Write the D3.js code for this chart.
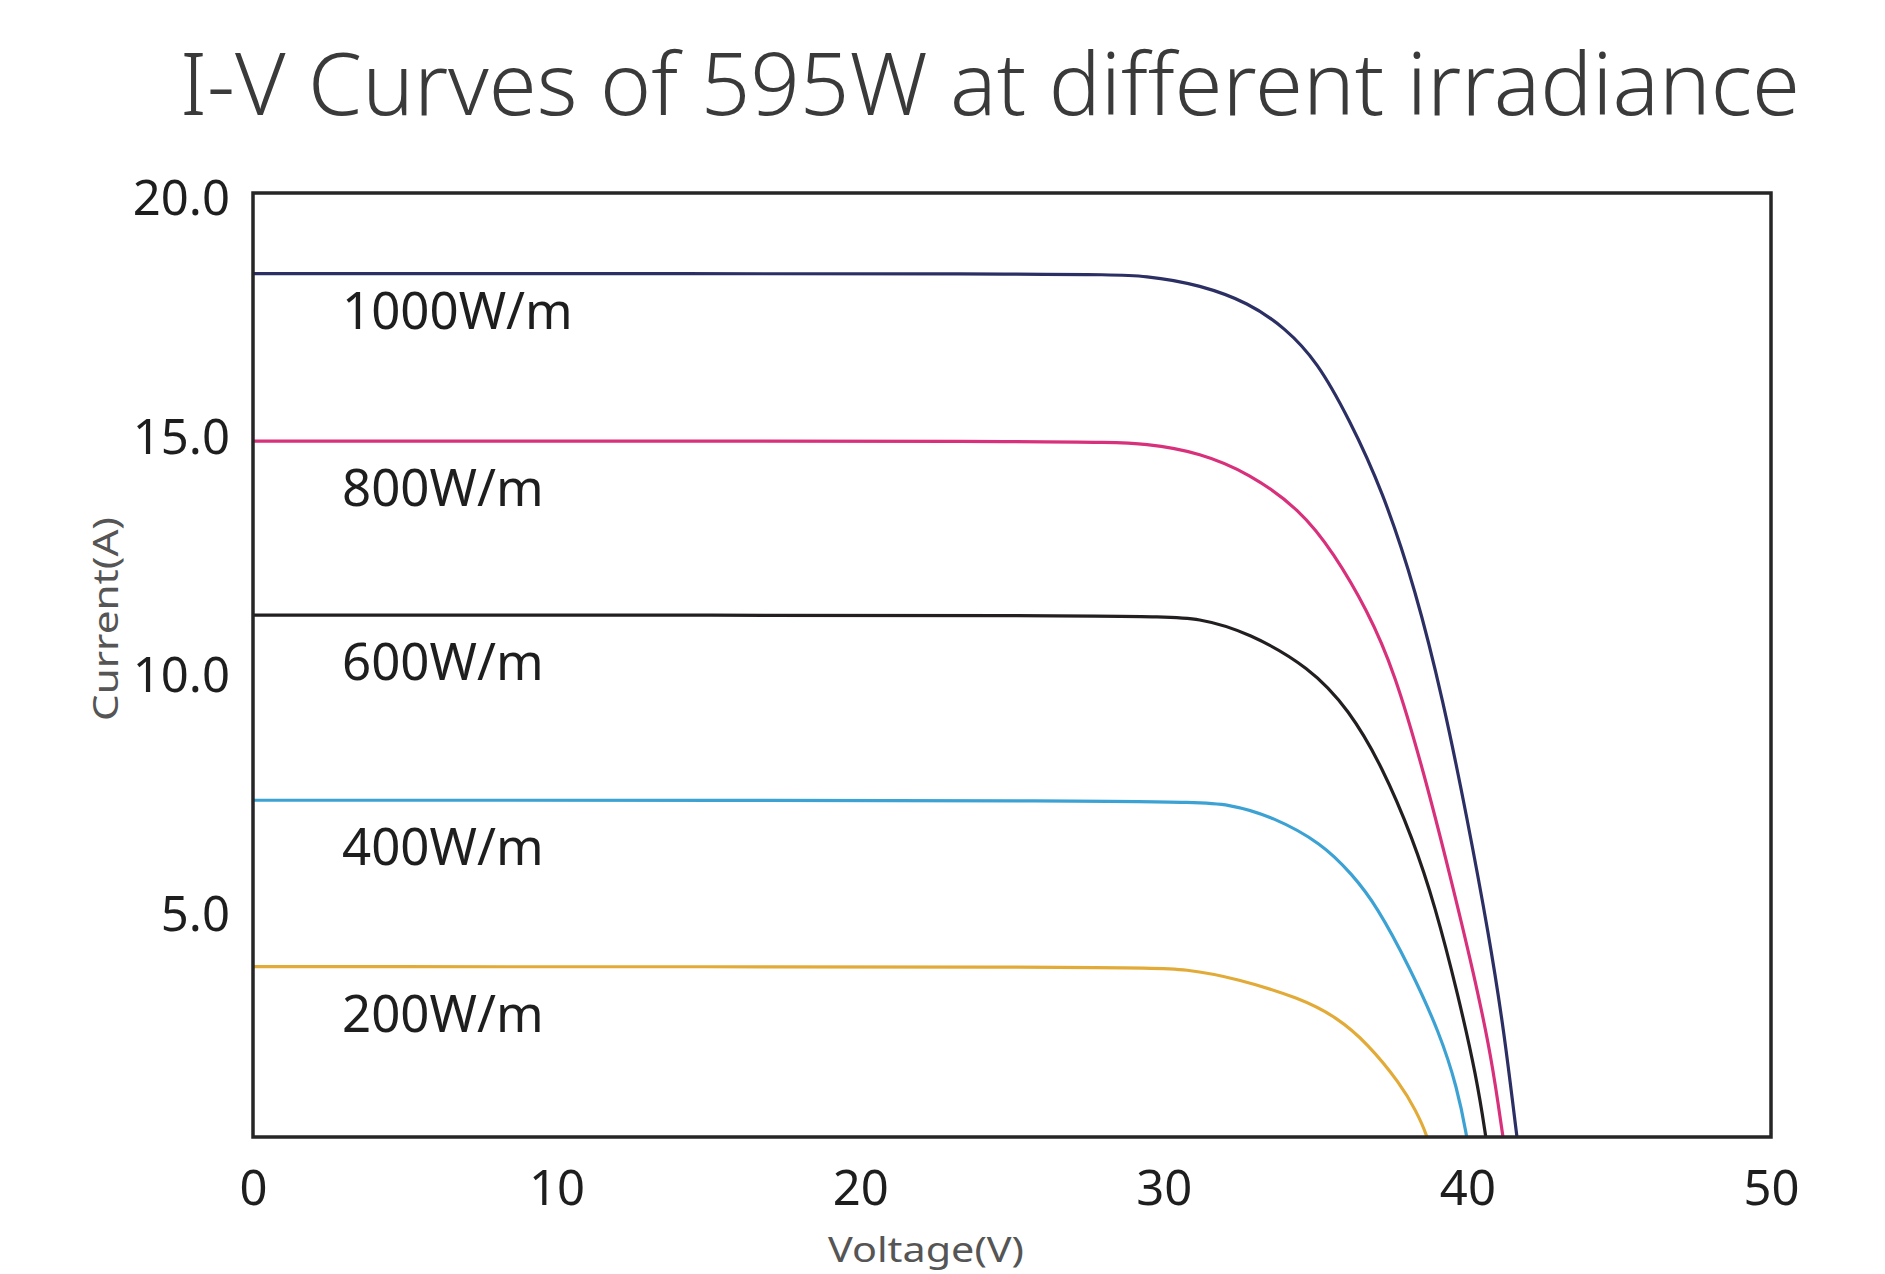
<!DOCTYPE html>
<html>
<head>
<meta charset="utf-8">
<script src="https://cdn.jsdelivr.net/npm/d3@7"></script>
<style>
  html, body { margin: 0; padding: 0; background: #ffffff; }
  svg { display: block; }
</style>
</head>
<body>
<svg id="chart" width="1885" height="1274"></svg>
<script>
// ---------- data ----------
const title = "I-V Curves of 595W at different irradiance";
const xTicks = [0, 10, 20, 30, 40, 50];
const yTicks = [5, 10, 15, 20];
const seriesNames = ["1000W/m", "800W/m", "600W/m", "400W/m", "200W/m"];
// [voltage V, current A]
const curve1000 = [[0,18.44],[27.5,18.44],[29.5,18.4],[31.2,18.2],[32.8,17.83],[34.0,17.3],[35.05,16.6],[36.1,15.4],[37.2,13.9],[38.3,11.8],[39.2,9.5],[40.0,7.0],[40.7,4.6],[41.2,2.6],[41.63,0.34],[41.7,0.0]];
const curve800  = [[0,14.93],[27.5,14.93],[29.5,14.88],[31.2,14.68],[32.8,14.26],[34.5,13.49],[35.6,12.58],[36.7,11.39],[37.6,10.1],[38.6,7.9],[39.4,5.9],[40.2,3.8],[40.8,2.0],[41.17,0.34],[41.25,0.0]];
const curve600  = [[0,11.28],[29.5,11.28],[31.2,11.22],[32.8,10.91],[34.8,10.19],[36.1,9.3],[37.2,8.1],[38.2,6.6],[38.93,5.2],[39.7,3.3],[40.3,1.6],[40.61,0.34],[40.68,0.0]];
const curve400  = [[0,7.40],[30.5,7.40],[32.2,7.32],[33.6,7.05],[35.2,6.5],[36.2,5.85],[37.0,5.2],[38.1,3.90],[39.1,2.5],[39.66,1.38],[39.99,0.34],[40.05,0.0]];
const curve200  = [[0,3.91],[29.0,3.91],[30.8,3.86],[32.4,3.66],[34.5,3.25],[35.7,2.85],[36.7,2.31],[37.8,1.45],[38.3,0.9],[38.7,0.34],[38.78,0.0]];
const curves = [curve1000, curve800, curve600, curve400, curve200];
const colors = ["#2c2f63", "#d8307b", "#231f20", "#3ba2d3", "#e2ab38"];

// ---------- layout ----------
const svg = d3.select("#chart");
const pL = 253, pR = 1771, pT = 193, pB = 1137;
const x = d3.scaleLinear().domain([0, 50]).range([pL, pR]);
const y = d3.scaleLinear().domain([0.34, 20.13]).range([pB, pT]);
const font = "'Noto Sans', 'Open Sans', sans-serif";

// title
svg.append("text")
  .attr("x", 180).attr("y", 115)
  .attr("textLength", 1620).attr("lengthAdjust", "spacingAndGlyphs")
  .style("font-family", font).style("font-size", "86px").style("font-weight", 300)
  .style("fill", "#3a3a3a")
  .text(title);

// clip
svg.append("defs").append("clipPath").attr("id", "plotclip")
  .append("rect").attr("x", pL).attr("y", pT).attr("width", pR - pL).attr("height", pB - pT);

// curves
const line = d3.line().x(d => x(d[0])).y(d => y(d[1])).curve(d3.curveBasis);
svg.append("g").attr("clip-path", "url(#plotclip)")
  .selectAll("path").data(curves).join("path")
  .attr("d", line)
  .attr("fill", "none")
  .attr("stroke", (d, i) => colors[i])
  .attr("stroke-width", 3.2);

// series labels
svg.append("g").selectAll("text").data(curves).join("text")
  .attr("x", 342)
  .attr("y", (d, i) => y(d[0][1]) + (i === 0 ? 55 : 65))
  .style("font-family", font).style("font-size", "51px")
  .style("fill", "#1e1e1e")
  .text((d, i) => seriesNames[i]);

// frame
svg.append("rect")
  .attr("x", pL).attr("y", pT).attr("width", pR - pL).attr("height", pB - pT)
  .attr("fill", "none").attr("stroke", "#262626").attr("stroke-width", 3.5);

// axes
const xAxis = svg.append("g").attr("transform", `translate(0,${pB})`)
  .call(d3.axisBottom(x).tickValues(xTicks).tickSize(0).tickPadding(33).tickFormat(d3.format("d")));
xAxis.select(".domain").remove();
xAxis.selectAll("text").style("font-family", font).style("font-size", "49px").style("fill", "#1e1e1e");

const yAxis = svg.append("g").attr("transform", `translate(${pL},0)`)
  .call(d3.axisLeft(y).tickValues(yTicks).tickSize(0).tickPadding(23).tickFormat(d3.format(".1f")));
yAxis.select(".domain").remove();
yAxis.selectAll("text").style("font-family", font).style("font-size", "49px").style("fill", "#1e1e1e");

// axis titles
svg.append("text")
  .attr("x", 926).attr("y", 1262).attr("text-anchor", "middle")
  .attr("textLength", 196).attr("lengthAdjust", "spacingAndGlyphs")
  .style("font-family", font).style("font-size", "34px").style("fill", "#555")
  .text("Voltage(V)");
svg.append("text")
  .attr("transform", "translate(118,619) rotate(-90)").attr("text-anchor", "middle")
  .attr("textLength", 204).attr("lengthAdjust", "spacingAndGlyphs")
  .style("font-family", font).style("font-size", "34px").style("fill", "#555")
  .text("Current(A)");
</script>
</body>
</html>
